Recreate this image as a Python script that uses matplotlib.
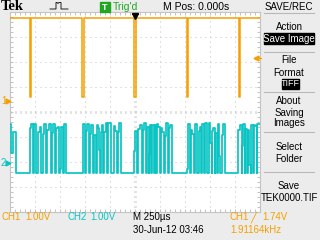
import matplotlib
matplotlib.use('Agg')
import matplotlib.pyplot as plt
from matplotlib.patches import Rectangle
import numpy as np

plt.rcParams['lines.scale_dashes'] = False
plt.rcParams['font.family'] = ['Liberation Sans', 'DejaVu Sans']

# scope settings
volts_per_div = 1.00
ch1_pos = 4.44   # CH1 ground marker, divisions from bottom
ch2_pos = 1.99   # CH2 ground marker

# CH1: square-ish signal with short negative pulses (us, V)
ch1_high = 3.30
ch1_low = 0.17
ch1_fall = [-1052, -528, -7, 515, 1040]
ch1_rise = [-1037, -515, 7, 529, 1053]

# CH2: data bursts, step points (time in us, level in V)
ch2_t = [-1250, -1240, -1220, -1190,
         -1050, -1040, -1020, -1010, -990, -970, -950, -940, -920, -910, -890,
         -880, -860, -840, -830, -820, -800, -790, -770, -760, -750, -740, -725,
         -715, -695,
         -520, -500, -490, -480, -460, -450, -440, -420, -410, -395, -385, -375,
         -365, -355, -345, -335, -320, -310, -295, -282, -272, -245, -215, -200,
         -180, -172, -160, -140,
         -10, 0, 20, 30, 50, 70, 80, 90, 110, 120, 135, 140, 150, 160, 170, 190,
         200, 210, 220, 230, 250, 260, 270, 290, 300, 310, 330, 340, 350, 370,
         515, 530, 550, 560, 573, 590, 603, 623, 637, 650, 660, 665, 673, 690,
         697, 723, 737, 747, 767, 770, 780, 797, 803, 817, 827, 837, 853, 867,
         883, 900,
         1033, 1047, 1065, 1070, 1077, 1097, 1103, 1117, 1130, 1140, 1157, 1163,
         1183, 1190, 1200, 1215, 1222, 1250]
ch2_v = [1.53, 0.37, 1.21, -0.42,
         1.37, 1.53, -0.42, 1.53, -0.42, 1.21, 1.41, -0.42, 1.13, 1.53, -0.42,
         1.29, 1.53, -0.42, 1.17, 1.53, -0.42, 1.37, 1.41, -0.42, -0.27, 1.41, -0.42,
         1.53, -0.42,
         1.53, -0.42, 1.25, 1.53, -0.42, 1.13, 1.49, -0.42, 1.09, -0.42, 1.49, 1.37,
         0.49, -0.42, 1.21, 1.49, -0.42, 1.21, 1.57, -0.42, 1.57, -0.42, 1.45, 1.25,
         -0.42, 1.21, 1.57, -0.42,
         0.45, 1.25, -0.42, 1.33, 1.49, -0.42, 1.29, 1.57, -0.42, 1.40, -0.42, 0.33,
         1.49, -0.42, 1.49, -0.42, 1.49, -0.42, 1.53, 1.40, -0.42, 1.37, 1.21, -0.42,
         1.04, 1.57, -0.42, 1.37, 1.49, -0.42,
         -0.27, 1.53, -0.42, 1.30, 1.13, -0.42, 1.51, -0.42, 1.26, 1.40, -0.42, 1.40,
         1.53, -0.42, 1.57, -0.42, 1.57, 0.77, -0.42, 1.24, 1.37, -0.42, 1.17, -0.42,
         1.53, 0.25, -0.42, 1.11, 1.53, -0.42,
         1.31, 1.49, -0.42, 0.64, 1.53, -0.42, 1.35, -0.42, 1.31, -0.10, -0.42, 1.49,
         -0.42, 1.49, 1.44, -0.42, 1.53, 1.53]

orange = '#f5a000'
cyan = '#0ac4c4'
green = '#1fa81f'
grid_c = '#c4c4c4'
bg = '#ececec'

fig = plt.figure(figsize=(3.2, 2.4), dpi=100, facecolor=bg)
ax = fig.add_axes([10 / 320, 28 / 240, 250 / 320, 200 / 240])
ax.set_facecolor('white')
ax.set_xlim(-1250, 1250)
ax.set_ylim(0, 8)

# graticule
for t in np.arange(-1000, 1001, 250):
    if t != 0:
        ax.axvline(t, color=grid_c, lw=0.75, ls=(0, (0.72, 2.88)), zorder=1)
for d in range(1, 8):
    if d != 4:
        ax.axhline(d, color=grid_c, lw=0.75, ls=(0, (0.72, 2.88)), zorder=1)
ax.axvline(0, color=grid_c, lw=2.0, ls=(0, (0.72, 2.88)), zorder=1)
ax.axhline(4, color=grid_c, lw=2.0, ls=(0, (0.72, 2.88)), zorder=1)
ax.set_xticks(np.arange(-1250, 1251, 50))
ax.set_yticks(np.arange(0, 8.01, 0.2))
ax.tick_params(direction='in', length=2.2, width=0.75, color=grid_c,
               top=True, right=True, labelbottom=False, labelleft=False)
for s in ax.spines.values():
    s.set_color(grid_c)
    s.set_linewidth(0.8)

# CH1
t1 = [-1250]
v1 = [ch1_high]
for f, r in zip(ch1_fall, ch1_rise):
    t1 += [f, r]
    v1 += [ch1_low, ch1_high]
t1.append(1250)
v1.append(ch1_high)
ax.plot(t1, np.array(v1) / volts_per_div + ch1_pos, color=orange, lw=1.1,
        drawstyle='steps-post', zorder=3)

# CH2
ax.plot(ch2_t, np.array(ch2_v) / volts_per_div + ch2_pos, color=cyan, lw=1.25,
        drawstyle='steps-post', zorder=3)

# screen annotations, pixel coordinates
hud = fig.add_axes([0, 0, 1, 1], zorder=5)
hud.set_xlim(0, 320)
hud.set_ylim(240, 0)
hud.axis('off')
hud.patch.set_alpha(0)

hud.text(0.5, 6.5, 'Tek', family=['Liberation Serif', 'DejaVu Serif'], weight='bold',
         size=10.5, va='center', ha='left')
hud.plot([50, 56, 56, 57, 58, 59, 61, 61, 68], [9, 9, 2.5, 2.5, 3.5, 2.5, 2.5, 9, 9],
         color='k', lw=0.6)
hud.add_patch(Rectangle((100, 2), 10, 9.5, color=green))
hud.text(105, 7, 'T', color='white', size=6.5, weight='bold', ha='center', va='center')
hud.text(113, 7, "Trig'd", color=green, size=7.5, va='center')
hud.text(163, 7, 'M Pos: 0.000s', size=7.5, va='center')

# trigger markers
hud.plot([132, 138], [13.5, 13.5], color='k', lw=0.8)
hud.plot(135, 15.8, marker='v', color='k', ms=4.5)
hud.plot([256, 261], [57.5, 57.5], color=orange, lw=0.8)
hud.plot(256, 57.5, marker='<', color=orange, ms=3.5)
hud.text(1, 101, '1', color=orange, size=7, va='center')
hud.plot(7.5, 101, marker='>', color=orange, ms=3.5)
hud.text(1, 162.5, '2', color=cyan, size=7, va='center')
hud.plot(7.5, 162.5, marker='>', color=cyan, ms=3.5)

# side menu
mx = 289
hud.text(mx, 7, 'SAVE/REC', size=7, ha='center', va='center')
for y in [12.5, 52, 92.3, 132.3, 172.3]:
    hud.plot([264, 314], [y, y], color='#b8b8b8', lw=0.8)
hud.text(mx, 27, 'Action', size=7, ha='center', va='center')
hud.add_patch(Rectangle((264, 33), 50, 11, color='black'))
hud.text(mx, 38.5, 'Save Image', size=7, ha='center', va='center', color='white')
hud.text(mx, 60, 'File', size=7, ha='center', va='center')
hud.text(mx, 72.5, 'Format', size=7, ha='center', va='center')
hud.add_patch(Rectangle((281.5, 79), 17.5, 10, color='black'))
hud.text(290.3, 84, 'TIFF', size=6.5, ha='center', va='center', color='white')
hud.text(mx, 101, 'About', size=7, ha='center', va='center')
hud.text(mx, 112.7, 'Saving', size=7, ha='center', va='center')
hud.text(mx, 123.5, 'Images', size=7, ha='center', va='center')
hud.text(mx, 147, 'Select', size=7, ha='center', va='center')
hud.text(mx, 159, 'Folder', size=7, ha='center', va='center')
hud.text(mx, 186, 'Save', size=7, ha='center', va='center')
hud.text(mx, 198, 'TEK0000.TIF', size=7, ha='center', va='center')

# bottom status line
hud.text(1, 217, 'CH1', color=orange, size=7, va='center')
hud.text(25, 217, '1.00V', color=orange, size=7, va='center')
hud.text(67, 217, 'CH2', color=cyan, size=7, va='center')
hud.text(90, 217, '1.00V', color=cyan, size=7, va='center')
hud.text(133, 217, 'M 250µs', size=7, va='center')
hud.text(133, 230, '30-Jun-12 03:46', size=7, va='center')
hud.text(230, 217, 'CH1', color=orange, size=7, va='center')
hud.text(250, 217, '╱', color=orange, size=7, va='center', family='DejaVu Sans')
hud.text(262, 217, '1.74V', color=orange, size=7, va='center')
hud.text(230, 230, '1.91164kHz', color=orange, size=7, va='center')

fig.savefig('out.png', dpi=100, facecolor=bg)
